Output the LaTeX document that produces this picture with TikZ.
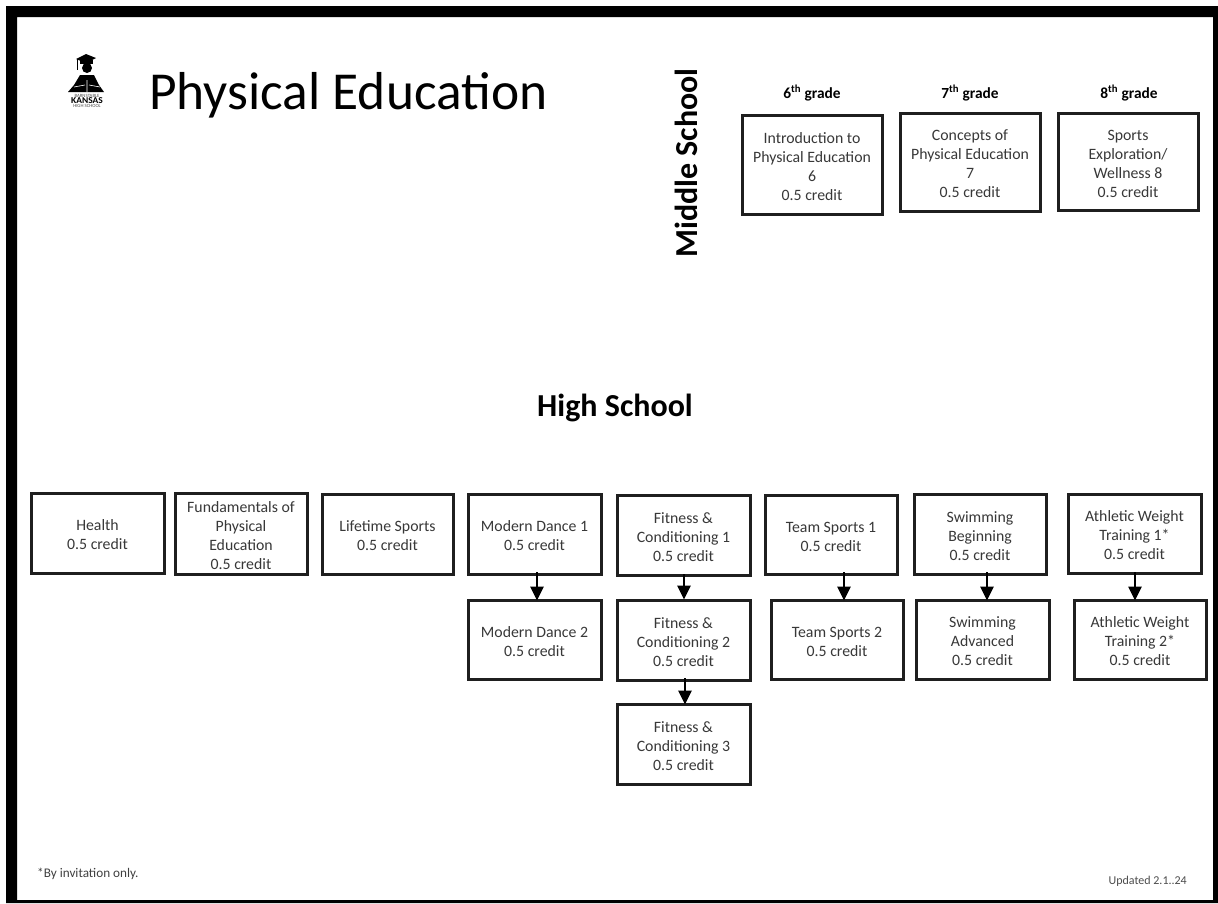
\documentclass[tikz,border=0pt]{standalone}
\usepackage{fontspec}
\setmainfont{Carlito}
\usetikzlibrary{arrows.meta}
\tikzset{
 px/.style={x=1pt,y=-1pt},
 box/.style={draw=black!88,line width=3pt,font=\fontsize{15.8}{19}\selectfont,text=black!78,inner sep=0pt},
 flow/.style={draw=black,line width=2.6pt,-{Triangle[length=14pt,width=13pt]},shorten >=-0.5pt},
 grade/.style={font=\fontsize{15.4}{18}\bfseries\selectfont}
}
\newcommand{\bx}[6]{\node[box,minimum width=#3pt-#1pt,minimum height=#4pt-#2pt] (#5) at ({(#1+#3)/2},{(#2+#4)/2}) {\raisebox{-7pt}[0pt][0pt]{\begin{tabular}{@{}c@{}}#6\end{tabular}}};}
\begin{document}
\begin{tikzpicture}[px]
\useasboundingbox (0,0) rectangle (1218,903);
\fill[white] (0,0) rectangle (1218,903);
\fill[black,even odd rule] (6,6) rectangle (1218,903) (17,17) rectangle (1213,900);
% emblem
\fill[black] (76,59) -- (86,54) -- (96,58) -- (86,63) -- cycle;
\fill[black] (87,68) circle (5);
\fill[black] (80,60) rectangle (93,64);
\draw[black,line width=.8pt] (77,59) -- (77,70);
\fill[black] (80,75) -- (94,75) -- (99,85) -- (104,92) -- (68,92) -- (74,85) -- cycle;
\draw[white,line width=.6pt] (87,80) -- (87,92) (74,87) -- (85,85) (100,87) -- (89,85);
\node[font=\fontsize{9}{9}\bfseries\selectfont,inner sep=0pt,xscale=1.05] (kansas) at (87,101) {KANSAS};
\node[font=\fontsize{4.8}{5}\selectfont,inner sep=0pt,text=black!70] (top) at (87,95.5) {BARNSTABLE};
\node[font=\fontsize{4.8}{5}\selectfont,inner sep=0pt,text=black!70] (bot) at (87,106.3) {HIGH SCHOOL};
%
\node[anchor=west,font=\fontsize{53.4}{60}\selectfont,inner sep=0pt] (title) at (149,95) {Physical Education};
\node[rotate=90,font=\fontsize{32}{36}\bfseries\selectfont,inner sep=0pt] (ms) at (686,163) {Middle School};
\node[font=\fontsize{32}{36}\bfseries\selectfont,inner sep=0pt] (hs) at (615,408) {High School};
\node[grade] (g6) at (812,93) {6\textsuperscript{th} grade};
\node[grade] (g7) at (970,93) {7\textsuperscript{th} grade};
\node[grade] (g8) at (1129,93) {8\textsuperscript{th} grade};
\bx{742}{115}{882}{214}{a6}{Introduction to\\Physical Education\\6\\0.5 credit}
\bx{900}{113}{1040}{211}{a7}{Concepts of\\Physical Education\\7\\0.5 credit}
\bx{1058}{113}{1198}{210}{a8}{Sports\\Exploration/\\Wellness 8\\0.5 credit}
\bx{31}{493}{164}{573}{health}{Health\\0.5 credit}
\bx{175}{493}{307}{574}{fund}{Fundamentals of\\Physical\\Education\\0.5 credit}
\bx{322}{494}{453}{574}{life}{Lifetime Sports\\0.5 credit}
\bx{468}{494}{601}{574}{md1}{Modern Dance 1\\0.5 credit}
\bx{468}{600}{601}{679}{md2}{Modern Dance 2\\0.5 credit}
\bx{617}{495}{750}{575}{fc1}{Fitness \&\\Conditioning 1\\0.5 credit}
\bx{617}{600}{750}{680}{fc2}{Fitness \&\\Conditioning 2\\0.5 credit}
\bx{617}{704}{750}{784}{fc3}{Fitness \&\\Conditioning 3\\0.5 credit}
\bx{765}{495}{897}{574}{ts1}{Team Sports 1\\0.5 credit}
\bx{771}{600}{903}{679}{ts2}{Team Sports 2\\0.5 credit}
\bx{914}{494}{1046}{574}{sw1}{Swimming\\Beginning\\0.5 credit}
\bx{916}{600}{1049}{679}{sw2}{Swimming\\Advanced\\0.5 credit}
\bx{1068}{494}{1201}{573}{aw1}{Athletic Weight\\Training 1*\\0.5 credit}
\bx{1074}{600}{1206}{679}{aw2}{Athletic Weight\\Training 2*\\0.5 credit}
\coordinate (p1) at (537,572); \coordinate (q1) at (537,600);
\coordinate (p2) at (684,574); \coordinate (q2) at (684,599);
\coordinate (p3) at (685,678); \coordinate (q3) at (685,704);
\coordinate (p4) at (844,572); \coordinate (q4) at (844,600);
\coordinate (p5) at (987,572); \coordinate (q5) at (987,600);
\coordinate (p6) at (1135,572); \coordinate (q6) at (1135,600);
\draw[flow] (p1) -- (q1);
\draw[flow] (p2) -- (q2);
\draw[flow] (p3) -- (q3);
\draw[flow] (p4) -- (q4);
\draw[flow] (p5) -- (q5);
\draw[flow] (p6) -- (q6);
\node[anchor=west,font=\fontsize{13.2}{15}\selectfont,text=black!75,inner sep=0pt] (note) at (37,874) {*By invitation only.};
\node[anchor=east,font=\fontsize{12}{14}\selectfont,text=black!70,inner sep=0pt] (upd) at (1187,881) {Updated 2.1..24};
\end{tikzpicture}
\end{document}
